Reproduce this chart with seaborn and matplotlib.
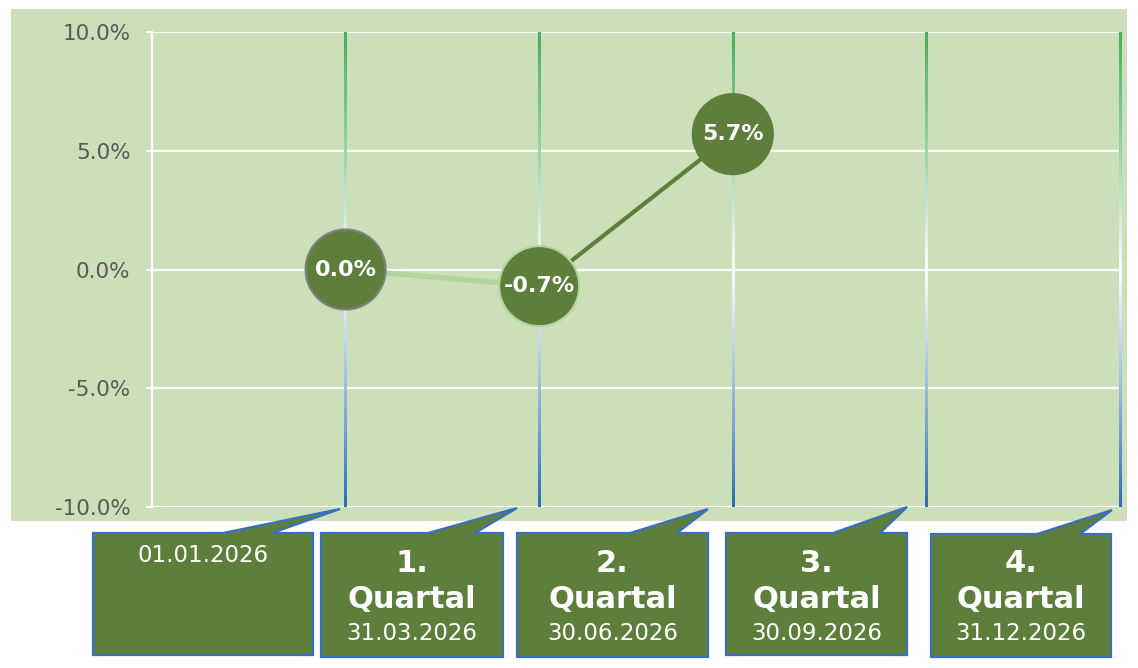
import numpy as np
import matplotlib.pyplot as plt
import seaborn as sns
from matplotlib.colors import LinearSegmentedColormap
from matplotlib.patches import Rectangle, Polygon

# data
period_numbers = ["", "1.", "2.", "3.", "4."]
period_names = ["", "Quartal", "Quartal", "Quartal", "Quartal"]
period_dates = ["01.01.2026", "31.03.2026", "30.06.2026", "30.09.2026", "31.12.2026"]
returns = [0.0, -0.7, 5.7]          # percent, first three reporting dates only
y_ticks = [-10, -5, 0, 5, 10]

# colours
PANEL = "#cbdfb8"
DARK = "#5e7f3c"
LIGHT = "#b3d49b"
EDGE_BLUE = "#3a6fbf"
TICK_GREY = "#595959"

W, H = 1138, 668


def px(x, y):
    return (x / W, 1 - y / H)


sns.set_style("white")
plt.rcParams["font.family"] = ["DejaVu Sans"]

fig = plt.figure(figsize=(W / 100, H / 100), dpi=100)
fig.patch.set_facecolor("white")
x0, y0 = px(11, 521)
x1, y1 = px(1127, 9)
fig.patches.append(Rectangle((x0, y0), x1 - x0, y1 - y0, transform=fig.transFigure,
                             facecolor=PANEL, edgecolor="none", zorder=-1))

ax0, ay0 = px(152, 507)
ax1, ay1 = px(1120, 32)
ax = fig.add_axes([ax0, ay0, ax1 - ax0, ay1 - ay0])
ax.set_facecolor(PANEL)

x_pos = np.arange(1, len(period_dates) + 1)

# horizontal grid
for v in y_ticks:
    ax.axhline(v, color="white", lw=1.6, zorder=1)

# gradient drop lines (green at top, white at zero, blue at bottom)
cmap = LinearSegmentedColormap.from_list(
    "drop", [(0.0, "#2e6cb8"), (0.25, "#9bbce0"), (0.5, "#ffffff"),
             (0.75, "#97d3ae"), (1.0, "#4aae5a")])
grad = np.linspace(0, 1, 256).reshape(-1, 1)
half_w = 1.3 / 193.6
for xp in x_pos:
    ax.imshow(grad, cmap=cmap, origin="lower", aspect="auto",
              extent=[xp - half_w, xp + half_w, -10, 10], zorder=2,
              interpolation="bilinear", clip_on=False)

# line segments
seg_colors = [LIGHT, DARK]
seg_widths = [3.8, 3.0]
for i in range(len(returns) - 1):
    sns.lineplot(x=x_pos[i:i + 2], y=returns[i:i + 2], color=seg_colors[i],
                 lw=seg_widths[i], ax=ax, zorder=3)

# markers
sns.scatterplot(x=x_pos[:len(returns)], y=returns, s=3320, color=DARK,
                edgecolor=["#808080", "#b3d49b", DARK], linewidth=1.5,
                ax=ax, zorder=4, legend=False)
for xp, v in zip(x_pos, returns):
    ax.text(xp, v, f"{v:.1f}%", ha="center", va="center", color="white",
            fontsize=16, fontweight="bold", zorder=5)

ax.set_xlim(0, 5)
ax.set_ylim(-10, 10)
ax.set_xticks([])
ax.set_yticks(y_ticks)
ax.set_yticklabels([f"{v:.1f}%" for v in y_ticks])
ax.tick_params(axis="y", left=True, colors="white", length=4.5, width=1.5,
               pad=11, labelsize=15.5, labelcolor=TICK_GREY)
for side in ["top", "right", "bottom"]:
    ax.spines[side].set_visible(False)
ax.spines["left"].set_color("white")
ax.spines["left"].set_linewidth(1.6)
ax.set_xlabel("")
ax.set_ylabel("")

# callout boxes under the axis (pixel layout)
boxes = [
    (93, 313, 533, 655, 223, 272, 340, 509),
    (321, 503, 533, 657, 428, 475, 517, 508),
    (517, 708, 533, 657, 630, 677, 708, 509),
    (726, 907, 533, 655, 833, 880, 907, 507),
    (931, 1111, 534, 657, 1037, 1080, 1112, 510),
]
for k, (bx0, bx1, by0, by1, ta, tb, tx, ty) in enumerate(boxes):
    pts = [px(bx0, by0), px(ta, by0), px(tx, ty), px(tb, by0), px(bx1, by0),
           px(bx1, by1), px(bx0, by1)]
    fig.patches.append(Polygon(pts, closed=True, transform=fig.transFigure,
                               facecolor=DARK, edgecolor=EDGE_BLUE, lw=1.6, zorder=1))
    cx = (bx0 + bx1) / 2
    kw = dict(ha="center", va="center", color="white", zorder=6)
    if period_numbers[k]:
        fig.text(*px(cx, 563), period_numbers[k], fontsize=22, fontweight="bold", **kw)
        fig.text(*px(cx, 600), period_names[k], fontsize=22, fontweight="bold", **kw)
        fig.text(*px(cx, 633), period_dates[k], fontsize=16.5, **kw)
    else:
        fig.text(*px(cx, 555), period_dates[k], fontsize=16.5, **kw)

fig.savefig("out.png", dpi=100, facecolor="white")
